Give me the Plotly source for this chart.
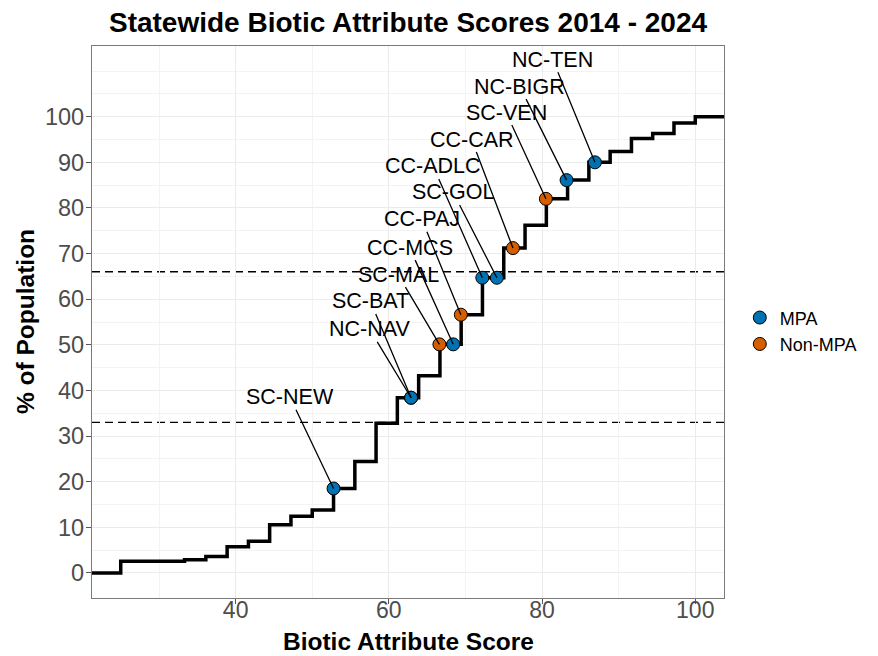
import plotly.graph_objects as go

# Cumulative distribution of biotic attribute scores:
# score at each jump and the cumulative % of population after it
step_scores = [25.00, 33.33, 36.11, 38.89, 41.67, 44.44, 47.22, 50.00, 52.78,
               55.56, 58.33, 61.11, 63.89, 66.67, 69.44, 72.22, 75.00, 77.78,
               80.56, 83.33, 86.11, 88.89, 91.67, 94.44, 97.22, 100.00]
step_pct = [2.56, 2.9, 3.57, 5.76, 6.93, 10.57, 12.4, 13.8, 18.5,
            24.4, 32.8, 38.4, 43.2, 50.1, 56.6, 64.7, 71.2, 76.2,
            82.0, 86.1, 90.0, 92.4, 95.2, 96.3, 98.6, 100.0]

# Highlighted sites
sites = ["SC-NEW", "NC-NAV", "SC-BAT", "SC-MAL", "CC-MCS", "CC-PAJ",
         "CC-ADLC", "SC-GOL", "CC-CAR", "SC-VEN", "NC-BIGR", "NC-TEN"]
site_scores = [52.78, 62.9, 62.9, 66.6, 68.4, 69.4, 72.2, 74.1, 76.2, 80.5, 83.2, 86.9]
site_pct = [18.5, 38.4, 38.4, 50.1, 50.1, 56.6, 64.7, 64.7, 71.2, 82.0, 86.1, 90.0]
site_type = ["MPA", "MPA", "MPA", "Non-MPA", "MPA", "Non-MPA",
             "MPA", "MPA", "Non-MPA", "Non-MPA", "MPA", "MPA"]

# Repelled label positions (data units)
label_x = [47.1, 57.5, 57.6, 61.2, 62.7, 64.3, 65.8, 68.4, 70.8, 75.3, 77.1, 81.4]
label_y = [38.5, 53.4, 59.5, 65.4, 71.3, 77.5, 89.1, 83.4, 95.0, 100.9, 106.6, 112.5]

# Tercile reference lines
tercile_lines = [33, 66]

type_colors = {"MPA": "#0072B2", "Non-MPA": "#D55E00"}

FONT = "Liberation Sans, Arial, sans-serif"

# ggplot-style 5% expansion
x_min, x_max = min(step_scores), max(step_scores)
x_pad = 0.05 * (x_max - x_min)
x_range = [x_min - x_pad, x_max + x_pad]
y_lim = [0, 110]
y_pad = 0.05 * (y_lim[1] - y_lim[0])
y_range = [y_lim[0] - y_pad, y_lim[1] + y_pad]

fig = go.Figure()

# ECDF step line, padded to the panel edges
fig.add_trace(go.Scatter(
    x=[x_range[0]] + step_scores + [x_range[1]],
    y=[0] + step_pct + [step_pct[-1]],
    mode="lines", line=dict(color="black", width=3.5, shape="hv"),
    showlegend=False, hoverinfo="skip",
))

for t in ["MPA", "Non-MPA"]:
    idx = [i for i, s in enumerate(site_type) if s == t]
    fig.add_trace(go.Scatter(
        x=[site_scores[i] for i in idx],
        y=[site_pct[i] for i in idx],
        mode="markers", name=t,
        marker=dict(size=13, color=type_colors[t],
                    line=dict(color="black", width=1)),
    ))

for yv in tercile_lines:
    fig.add_shape(type="line", xref="paper", x0=0, x1=1, yref="y", y0=yv, y1=yv,
                  line=dict(color="black", width=1.4, dash="8px,5px"),
                  layer="between")

for name, sx, sy, lx, ly in zip(sites, site_scores, site_pct, label_x, label_y):
    fig.add_annotation(
        x=sx, y=sy, ax=lx, ay=ly, axref="x", ayref="y", xref="x", yref="y",
        text=name, showarrow=True, arrowhead=0, arrowwidth=1.3,
        arrowcolor="black", standoff=0, startstandoff=0,
        font=dict(family=FONT, size=21.5, color="black"), borderpad=0,
    )

# Axis titles
fig.add_annotation(text="<b>Biotic Attribute Score</b>", xref="paper", yref="paper",
                   x=0.5, y=-0.078, xanchor="center", yanchor="middle",
                   showarrow=False, font=dict(family=FONT, size=24.5, color="black"))
fig.add_annotation(text="<b>% of Population</b>", xref="paper", yref="paper",
                   x=-0.106, y=0.5, xanchor="center", yanchor="middle", textangle=-90,
                   showarrow=False, font=dict(family=FONT, size=24.5, color="black"))

grid_major = "#ebebeb"
grid_minor = "#f3f3f3"

fig.update_layout(
    width=878, height=656,
    margin=dict(l=92, r=154, t=46, b=58, autoexpand=False),
    paper_bgcolor="white", plot_bgcolor="white",
    title=dict(text="<b>Statewide Biotic Attribute Scores 2014 - 2024</b>",
               x=0.5, xref="paper", xanchor="center",
               y=1 - 22 / 656, yref="container", yanchor="middle",
               font=dict(family=FONT, size=28, color="black")),
    legend=dict(x=1.025, xanchor="left", y=0.484, yanchor="middle",
                font=dict(family=FONT, size=18, color="black"),
                bgcolor="rgba(0,0,0,0)", tracegroupgap=0),
    showlegend=True,
)

fig.update_xaxes(
    range=x_range, tickvals=[40, 60, 80, 100], automargin=False,
    showgrid=True, gridcolor=grid_major, gridwidth=1.2,
    minor=dict(tickvals=[30, 50, 70, 90], showgrid=True, gridcolor=grid_minor,
               gridwidth=0.8, ticks=""),
    ticks="outside", ticklen=5, tickcolor="#555555", tickwidth=1.1,
    ticklabelstandoff=-14,
    tickfont=dict(family=FONT, size=23, color="#4d4d4d"),
    showline=True, linecolor="#7a7a7a", linewidth=1.2, mirror=True,
    zeroline=False,
)

fig.update_yaxes(
    range=y_range, tickvals=list(range(0, 101, 10)), automargin=False,
    showgrid=True, gridcolor=grid_major, gridwidth=1.2,
    minor=dict(tickvals=list(range(5, 100, 10)) + [105, 110], showgrid=True,
               gridcolor=grid_minor, gridwidth=0.8, ticks=""),
    ticks="outside", ticklen=5, tickcolor="#555555", tickwidth=1.1,
    ticklabelstandoff=-3,
    tickfont=dict(family=FONT, size=23.5, color="#4d4d4d"),
    showline=True, linecolor="#7a7a7a", linewidth=1.2, mirror=True,
    zeroline=False,
)

fig.write_html("out.html")
